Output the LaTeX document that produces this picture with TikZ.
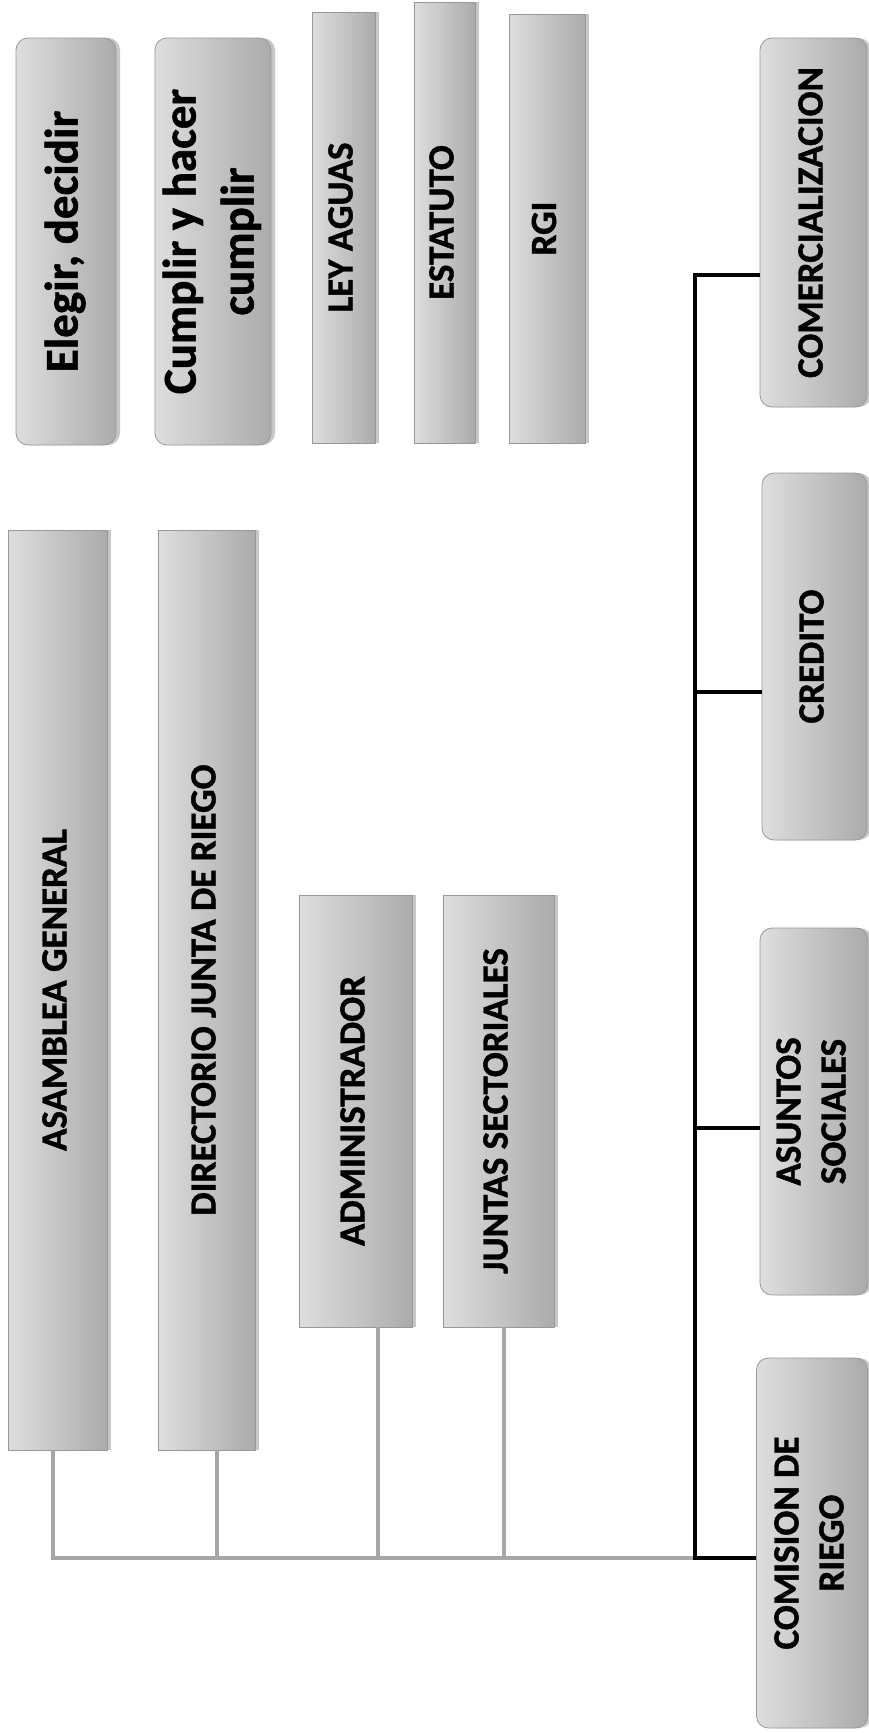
\documentclass[tikz,border=0pt]{standalone}
\usepackage{fontspec}
\setmainfont{Carlito}[BoldFeatures={FakeBold=1.2}]
\usetikzlibrary{shadows}
\definecolor{boxlight}{HTML}{DEDEDE}
\definecolor{boxdark}{HTML}{ABABAB}
\definecolor{boxborder}{HTML}{989898}
\definecolor{linkgray}{HTML}{A6A6A6}
\newcommand{\vtext}[1]{\rotatebox{90}{\begin{tabular}{@{}c@{}}#1\end{tabular}}}
\begin{document}
\begin{tikzpicture}[x=1pt,y=-1pt,
  box/.style={draw=boxborder, line width=0.8pt, left color=boxlight, right color=boxdark,
    inner sep=0pt, text=black, font=\bfseries\fontsize{37}{45}\selectfont,
    drop shadow={shadow xshift=4pt, shadow yshift=0pt, opacity=0.22, fill=black}},
  rbox/.style={box, rounded corners=12pt},
  bigtext/.style={font=\bfseries\fontsize{47}{58}\selectfont},
  graylink/.style={draw=linkgray, line width=3.5pt},
  blacklink/.style={draw=black, line width=4.5pt, line join=miter}]
\fill[white] (0,0) rectangle (868,1733);
\useasboundingbox (0,0) rectangle (868,1733);

% top row
\node[rbox, bigtext, minimum width=100pt, minimum height=407pt] (elegir) at (66,241.5) {\vtext{Elegir, decidir}};
\node[rbox, bigtext, minimum width=96pt, minimum height=407pt] (cumplir) at (213,241.5) {\vtext{Cumplir y hacer\\cumplir}};
\node[box, minimum width=63pt, minimum height=431pt] (ley) at (343.5,227.5) {\vtext{LEY AGUAS}};
\node[box, minimum width=61pt, minimum height=441pt] (estatuto) at (444.5,222.5) {\vtext{ESTATUTO}};
\node[box, minimum width=76pt, minimum height=429pt] (rgi) at (547,228.5) {\vtext{RGI}};

% left tall boxes
\node[box, minimum width=99pt, minimum height=920pt] (asam) at (57.5,990) {\vtext{ASAMBLEA GENERAL}};
\node[box, minimum width=97pt, minimum height=920pt] (direc) at (206.5,990) {\vtext{DIRECTORIO JUNTA DE RIEGO}};
\node[box, minimum width=113pt, minimum height=432pt] (admin) at (355.5,1111) {\vtext{ADMINISTRADOR}};
\node[box, minimum width=111pt, minimum height=432pt] (juntas) at (498.5,1111) {\vtext{JUNTAS SECTORIALES}};

% right column
\node[rbox, minimum width=107pt, minimum height=369pt] (comerc) at (813.5,222.5) {\vtext{COMERCIALIZACION}};
\node[rbox, minimum width=105pt, minimum height=367pt] (credito) at (814.5,656.5) {\vtext{CREDITO}};
\node[rbox, minimum width=108pt, minimum height=367pt] (asuntos) at (814,1111.5) {\vtext{ASUNTOS\\SOCIALES}};
\node[rbox, minimum width=111pt, minimum height=370pt] (comision) at (812,1543) {\vtext{COMISION DE\\RIEGO}};

% bus coordinates
\coordinate (b1) at (53,1558);
\coordinate (b2) at (217,1558);
\coordinate (b3) at (378,1558);
\coordinate (b4) at (504,1558);
\coordinate (hub) at (695,1558);
\coordinate (jtop) at (695,275);
\coordinate (j2) at (695,692);
\coordinate (j3) at (695,1128);

% gray connectors
\draw[graylink] (asam.south -| b1) -- (b1);
\draw[graylink] (direc.south -| b2) -- (b2);
\draw[graylink] (admin.south -| b3) -- (b3);
\draw[graylink] (juntas.south -| b4) -- (b4);
\draw[graylink] ([xshift=-1.75pt]b1) -- (hub);

% black connectors
\draw[blacklink] (comerc.west |- jtop) -- (jtop) -- (hub) -- (comision.west |- hub);
\draw[blacklink] (j2) -- (credito.west |- j2);
\draw[blacklink] (j3) -- (asuntos.west |- j3);
\end{tikzpicture}
\end{document}
